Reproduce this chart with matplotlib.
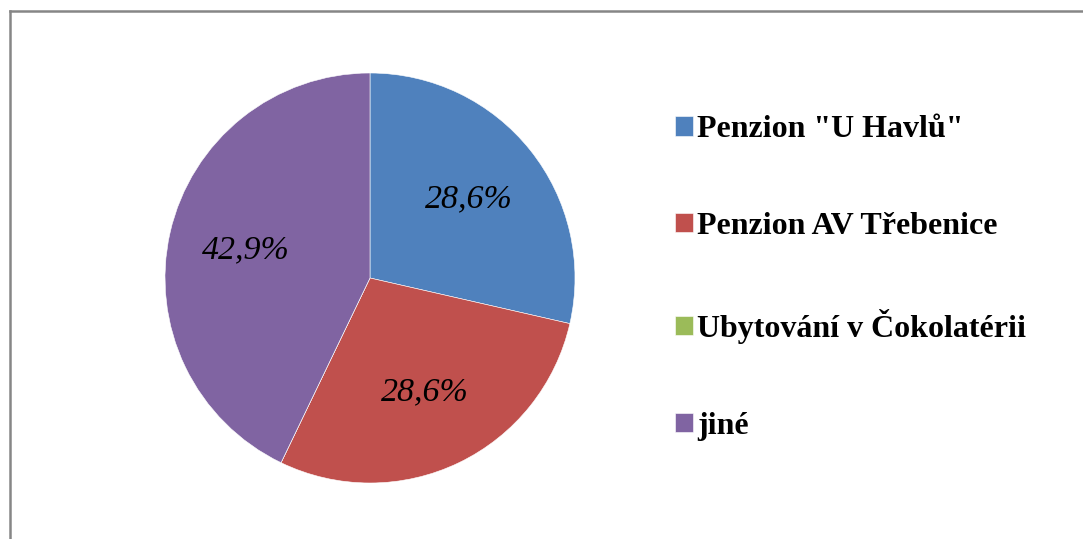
import matplotlib.pyplot as plt
import numpy as np

# data
labels = ['Penzion "U Havlů"', 'Penzion AV Třebenice', 'Ubytování v Čokolatérii', 'jiné']
values = [2, 2, 0, 3]
colors = ['#4F81BD', '#C0504D', '#9BBB59', '#8064A2']

def fmt_pct(p):
    if p < 0.05:
        return ''
    return '{:.1f}%'.format(p).replace('.', ',')

fig = plt.figure(figsize=(10.83, 5.39), dpi=100)

# pie axes (centre ~ (370, 278) px, radius ~205 px)
ax = fig.add_axes([165 / 1083, 56 / 539, 410 / 1083, 410 / 539])
wedges, texts, autotexts = ax.pie(values, colors=colors, startangle=90, counterclock=False,
                                  autopct=fmt_pct, pctdistance=0.62,
                                  wedgeprops=dict(edgecolor='white', linewidth=0.4),
                                  textprops=dict(family='Liberation Serif', style='italic',
                                                 fontsize=24.5, color='black'))
ax.set_xlim(-1, 1)
ax.set_ylim(-1, 1)
ax.set_aspect('equal')
ax.axis('off')

leg = fig.legend(wedges, labels, loc='center left', bbox_to_anchor=(675 / 1083, 1 - 278 / 539),
                 frameon=False, prop=dict(family='Liberation Serif', weight='bold', size=23),
                 handlelength=0.55, handleheight=0.55, handletextpad=0.15,
                 labelspacing=2.12, borderpad=0, borderaxespad=0)

# chart border (only top and left visible in the crop)
fig.add_artist(plt.Line2D([9.5 / 1083, 1.0], [1 - 10.5 / 539, 1 - 10.5 / 539],
                          transform=fig.transFigure, color='#868686', linewidth=1.8))
fig.add_artist(plt.Line2D([9.5 / 1083, 9.5 / 1083], [0.0, 1 - 10.5 / 539],
                          transform=fig.transFigure, color='#868686', linewidth=1.8))

fig.savefig('out.png', dpi=100, facecolor='white')
